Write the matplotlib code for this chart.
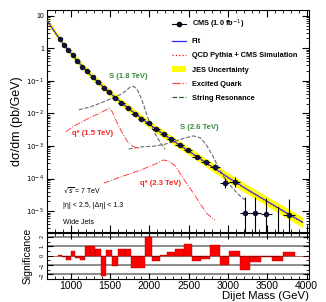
import numpy as np
import matplotlib
matplotlib.use('Agg')
from matplotlib import pyplot as plt
from matplotlib.lines import Line2D
from matplotlib.patches import Patch

plt.rcParams['font.family'] = ['Liberation Sans', 'DejaVu Sans']
plt.rcParams['mathtext.fontset'] = 'dejavusans'

# Dijet mass bins (GeV)
edges = [838, 890, 944, 1000, 1058, 1118, 1181, 1246, 1313, 1383, 1455, 1530, 1607,
         1687, 1770, 1856, 1945, 2037, 2132, 2231, 2332, 2438, 2546, 2659, 2775, 2895,
         3019, 3147, 3279, 3416, 3558, 3704, 3854]

# Data, log10(dsigma/dm) per bin (nan = empty bin)
data_log = [0.28, 0.11, -0.06, -0.22, -0.39, -0.56, -0.71, -0.87, -1.03, -1.22, -1.35,
            -1.53, -1.67, -1.83, -2.01, -2.17, -2.29, -2.49, -2.64, -2.80, -2.96, -3.11,
            -3.33, -3.50, -3.64, -4.13, -4.11, -5.07, -5.07, -5.09, np.nan, -5.12]
err_up = [0.01, 0.01, 0.01, 0.01, 0.01, 0.01, 0.01, 0.01, 0.01, 0.02, 0.02, 0.02, 0.02,
          0.02, 0.02, 0.03, 0.03, 0.03, 0.03, 0.04, 0.04, 0.05, 0.06, 0.07, 0.09, 0.15,
          0.15, 0.5, 0.5, 0.5, 0, 0.5]
err_dn = [0.01, 0.01, 0.01, 0.01, 0.01, 0.01, 0.01, 0.01, 0.01, 0.02, 0.02, 0.02, 0.02,
          0.02, 0.02, 0.03, 0.03, 0.03, 0.03, 0.04, 0.04, 0.05, 0.06, 0.07, 0.09, 0.15,
          0.15, 1.5, 1.5, 1.5, 0, 1.5]
empty_upper_log = -4.87

# Significance per bin
signif = [0.1, -0.1, -0.5, 0.5, -0.2, -0.5, 1.0, 1.1, 0.7, -2.2, 0.6, -1.1, 0.7, 0.7,
          -1.3, -1.3, 2.0, -0.6, 0.1, 0.4, 0.7, 1.3, -0.55, -0.3, 1.2, -1.0, 0.5, -1.55,
          -0.7, -0.1, -0.6, 0.45]

# Fit and JES band
fit_mass = [700, 750, 800, 864, 925, 1000, 1125, 1250, 1500, 1750, 2000, 2250, 2500,
            2750, 3000, 3250, 3500, 3750, 3950]
fit_log = [0.85, 0.68, 0.50, 0.28, 0.08, -0.14, -0.49, -0.81, -1.37, -1.87, -2.33, -2.75,
           -3.15, -3.56, -3.96, -4.34, -4.70, -5.06, -5.34]
jes_half = [0.09, 0.09, 0.09, 0.09, 0.09, 0.09, 0.10, 0.10, 0.10, 0.11, 0.11, 0.12, 0.12,
            0.13, 0.14, 0.14, 0.15, 0.16, 0.16]

# Signal shapes
s18_mass = [1105, 1250, 1384, 1500, 1574, 1650, 1700, 1763, 1810, 1850, 1890, 1930, 1970,
            2017, 2080, 2143, 2200]
s18_log = [-1.89, -1.80, -1.68, -1.56, -1.49, -1.40, -1.31, -1.18, -1.18, -1.28, -1.49,
           -1.75, -2.05, -2.35, -2.65, -2.90, -3.10]
s26_mass = [1738, 1890, 2080, 2207, 2333, 2460, 2561, 2650, 2726, 2802, 2878, 2966, 3055,
            3156, 3219]
s26_log = [-3.09, -3.03, -3.00, -2.94, -2.85, -2.75, -2.69, -2.75, -2.97, -3.28, -3.65,
           -4.02, -4.29, -4.54, -4.66]
q15_mass = [940, 1050, 1150, 1250, 1350, 1420, 1489, 1530, 1574, 1620, 1658, 1700, 1742,
            1800, 1870]
q15_log = [-2.56, -2.38, -2.25, -2.12, -2.02, -1.93, -1.84, -1.95, -2.20, -2.42, -2.61,
           -2.78, -2.92, -3.02, -3.08]
q23_mass = [1422, 1637, 1890, 2080, 2181, 2244, 2333, 2396, 2472, 2561, 2650, 2726, 2836]
q23_log = [-4.14, -3.95, -3.74, -3.55, -3.43, -3.46, -3.62, -3.86, -4.14, -4.45, -4.78,
           -5.06, -5.28]

edges = np.array(edges)
centers = (edges[:-1] + edges[1:]) / 2
halfw = (edges[1:] - edges[:-1]) / 2
data_log = np.array(data_log)
data = 10 ** data_log
yup = 10 ** (data_log + np.array(err_up)) - data
ydn = data - 10 ** (data_log - np.array(err_dn))

fig = plt.figure(figsize=(3.26, 3.02), dpi=100)
ax = fig.add_axes([0.144, 0.232, 0.804, 0.735])
ax2 = fig.add_axes([0.144, 0.076, 0.804, 0.154])

fm = np.array(fit_mass)
fl = np.array(fit_log)
jh = np.array(jes_half)
ax.fill_between(fm, 10 ** (fl - jh), 10 ** (fl + jh), color='#ffff00', lw=0, zorder=1)
ax.plot(fm, 10 ** (fl - 0.02), color='red', ls=':', lw=0.8, zorder=2)
ax.plot(fm, 10 ** fl, color='#2a2aff', lw=0.8, zorder=3)

ax.plot(s18_mass, 10 ** np.array(s18_log), color='#6a6a6a', ls='--', lw=0.8)
ax.plot(s26_mass, 10 ** np.array(s26_log), color='#6a6a6a', ls='--', lw=0.8)
ax.plot(q15_mass, 10 ** np.array(q15_log), color='#ff4040', ls='-.', lw=0.7)
ax.plot(q23_mass, 10 ** np.array(q23_log), color='#ff4040', ls='-.', lw=0.7)

ok = ~np.isnan(data_log)
ax.errorbar(centers[ok], data[ok], xerr=halfw[ok], yerr=[ydn[ok], yup[ok]], fmt='o',
            ms=3.4, mfc='#10104a', mec='black', mew=0.5, ecolor='black', elinewidth=0.8,
            capsize=0, zorder=5)
ce = centers[~ok][0]
ax.plot([ce, ce], [1e-7, 10 ** empty_upper_log], color='black', lw=0.8, zorder=5)

ax.set_yscale('log')
ax.set_xlim(700, 4030)
ax.set_ylim(2.3e-6, 15)
ax.set_yticks([1e-5, 1e-4, 1e-3, 1e-2, 1e-1, 1, 10])
ax.set_yticklabels(['$10^{-5}$', '$10^{-4}$', '$10^{-3}$', '$10^{-2}$', '$10^{-1}$', '1', '10'])
ax.set_xticks(np.arange(1000, 4001, 500))
ax.set_xticks(np.arange(700, 4001, 100), minor=True)
ax.tick_params(axis='both', which='both', direction='in', top=True, right=True,
               labelbottom=False, labelsize=5, pad=2)
ax.tick_params(which='major', length=5, width=0.8)
ax.tick_params(which='minor', length=2.5, width=0.6)
ax.set_ylabel('d\u03c3/dm (pb/GeV)', fontsize=9, labelpad=2)

tcol_g = '#3b8a3b'
tcol_r = '#ff2020'
ax.text(1730, 10 ** -0.88, 'S (1.8 TeV)', color=tcol_g, fontsize=5.5, fontweight='bold',
        ha='center', va='center')
ax.text(2637, 10 ** -2.42, 'S (2.6 TeV)', color=tcol_g, fontsize=5.5, fontweight='bold',
        ha='center', va='center')
ax.text(1282, 10 ** -2.62, 'q* (1.5 TeV)', color=tcol_r, fontsize=5.5, fontweight='bold',
        ha='center', va='center')
ax.text(2140, 10 ** -4.14, 'q* (2.3 TeV)', color=tcol_r, fontsize=5.5, fontweight='bold',
        ha='center', va='center')
ax.text(900, 10 ** -4.35, '$\\sqrt{s}$ = 7 TeV', fontsize=5, va='center')
ax.text(900, 10 ** -4.82, '|\u03b7| < 2.5, |\u0394\u03b7| < 1.3', fontsize=5, va='center')
ax.text(900, 10 ** -5.34, 'Wide Jets', fontsize=5, va='center')

handles = [
    Line2D([], [], color='black', marker='o', ms=3, mfc='#10104a', lw=0.8),
    Line2D([], [], color='#2a2aff', lw=0.9),
    Line2D([], [], color='red', ls=':', lw=0.9),
    Patch(facecolor='#ffff00', edgecolor='none'),
    Line2D([], [], color='#ff4040', ls='-.', lw=0.9),
    Line2D([], [], color='#2e5e2e', ls='--', lw=0.9),
]
labels = ['CMS (1.0 fb$^{-1}$)', 'Fit', 'QCD Pythia + CMS Simulation', 'JES Uncertainty',
          'Excited Quark', 'String Resonance']
leg = ax.legend(handles, labels, loc='upper left', bbox_to_anchor=(0.465, 0.978),
                frameon=False, fontsize=5.3, labelspacing=0.95, handlelength=2.0,
                handletextpad=0.7, borderaxespad=0)
for t in leg.get_texts():
    t.set_fontweight('bold')

# Significance panel
for yv in [-2, -1, 1, 2]:
    ax2.axhline(yv, color='#8c8c8c', lw=1.4, zorder=1)
ax2.bar(edges[:-1], signif, width=edges[1:] - edges[:-1], align='edge', color='#ff0000',
        edgecolor='#aa0000', lw=0.3, zorder=2)
ax2.axhline(0, color='#600000', lw=0.4, zorder=3)
ax2.set_xlim(700, 4030)
ax2.set_ylim(-2.5, 2.5)
ax2.set_yticks([-2, -1, 0, 1, 2])
ax2.set_xticks(np.arange(1000, 4001, 500))
ax2.set_xticks(np.arange(700, 4001, 100), minor=True)
ax2.set_yticks(np.arange(-2.5, 2.6, 0.5), minor=True)
ax2.tick_params(axis='both', which='both', direction='in', top=True, right=True, pad=1.5)
ax2.tick_params(axis='y', labelsize=4, labelrotation=90)
ax2.tick_params(axis='x', labelsize=7.5)
ax2.tick_params(which='major', length=4, width=0.8)
ax2.tick_params(which='minor', length=2, width=0.6)
ax2.set_ylabel('Significance', fontsize=7.5, labelpad=5)
ax2.set_xlabel('Dijet Mass (GeV)', fontsize=8.2, loc='right', labelpad=0)

plt.savefig('out.png', dpi=100)
